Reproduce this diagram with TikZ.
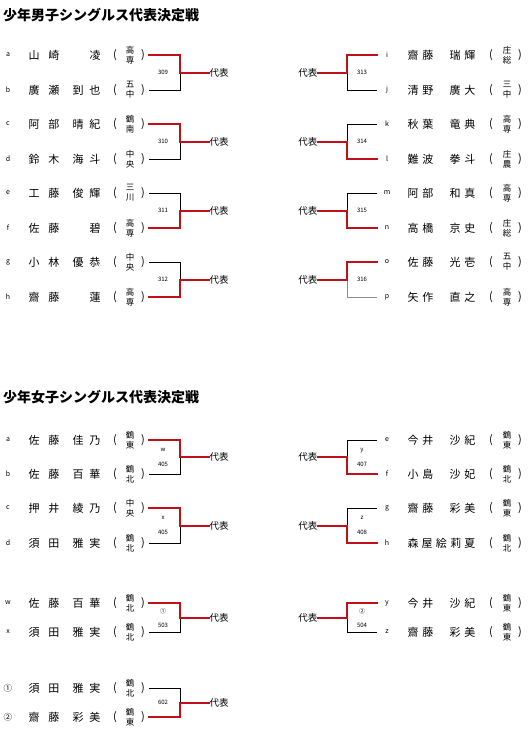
\documentclass[tikz,border=0pt]{standalone}
\usepackage{fontspec}
\setmainfont{Noto Sans CJK JP}
\usetikzlibrary{calc}

\definecolor{winred}{RGB}{192,16,24}

% one player row, left half: id, y, letter, surname, given name, school
\newcommand{\Lrow}[9]{%
  \node[tag] (#1) at (8,#2) {#3};
  \node[nm] (#1sur) at (44,#2) {\makebox[31pt]{#4\hfill#5}};
  \node[nm] (#1giv) at (86.5,#2) {\makebox[28pt]{#6\hfill#7}};
  \node[nm] (#1l) at (115,#2) {(};
  \node[school] (#1k) at (130,#2) {#8\\#9};
  \node[nm] (#1r) at (143,#2) {)};
  \coordinate (#1p) at (149,#2);
}
% one player row, right half
\newcommand{\Rrow}[9]{%
  \coordinate (#1p) at (377,#2);
  \node[tag] (#1) at (387,#2) {#3};
  \node[nm] (#1sur) at (420.5,#2) {\makebox[26pt]{#4\hfill#5}};
  \node[nm] (#1giv) at (462.5,#2) {\makebox[26pt]{#6\hfill#7}};
  \node[nm] (#1l) at (491,#2) {(};
  \node[school] (#1k) at (507,#2) {#8\\#9};
  \node[nm] (#1r) at (520,#2) {)};
}
% bracket: top, bottom, top style, bottom style, id, label
\newcommand{\Lmatch}[6]{%
  \coordinate (#5t) at ($(#1p)+(31,0)$);
  \coordinate (#5b) at ($(#2p)+(31,0)$);
  \coordinate (#5m) at ($(#5t)!0.5!(#5b)$);
  \node[rep, anchor=west] (#5r) at ($(#5m)+(29,0)$) {代表};
  \node[num] (#5n) at ($(#5m)+(-17,0)$) {#6};
  \draw[#4] (#2p) -- (#5b) -- (#5m);
  \draw[#3] (#1p) -- (#5t) -- (#5m);
  \draw[win] (#5m) -- (#5r.west);
}
\newcommand{\Rmatch}[6]{%
  \coordinate (#5t) at ($(#1p)+(-30,0)$);
  \coordinate (#5b) at ($(#2p)+(-30,0)$);
  \coordinate (#5m) at ($(#5t)!0.5!(#5b)$);
  \node[rep, anchor=east] (#5r) at ($(#5m)+(-29,0)$) {代表};
  \node[num] (#5n) at ($(#5m)+(15,0)$) {#6};
  \draw[#4] (#2p) -- (#5b) -- (#5m);
  \draw[#3] (#1p) -- (#5t) -- (#5m);
  \draw[win] (#5m) -- (#5r.east);
}

\begin{document}
\begin{tikzpicture}[
  x=1pt, y=-1pt,
  title/.style={anchor=west, inner sep=0pt, font=\fontsize{14}{15}\selectfont\bfseries},
  tag/.style={inner sep=0pt, font=\fontsize{7}{8}\selectfont},
  nm/.style={inner sep=0pt, font=\fontsize{11}{12}\selectfont},
  school/.style={inner sep=0pt, align=center, font=\fontsize{8.5}{10}\selectfont},
  num/.style={inner sep=0pt, align=center, font=\fontsize{6}{7}\selectfont},
  rep/.style={inner sep=0.5pt, font=\fontsize{9.5}{10}\selectfont},
  win/.style={draw=winred, line width=2pt, line cap=rect},
  lose/.style={draw=black, line width=0.6pt},
  faint/.style={draw=black!45, line width=0.8pt}
]
\useasboundingbox (0,0) rectangle (530,742);

\node[title] (boys) at (3,15) {少年男子シングルス代表決定戦};

\Lrow{ma}{55}{a}{山}{崎}{}{凌}{高}{専}
\Lrow{mb}{90}{b}{廣}{瀬}{到}{也}{五}{中}
\Lrow{mc}{124}{c}{阿}{部}{晴}{紀}{鶴}{南}
\Lrow{md}{159}{d}{鈴}{木}{海}{斗}{中}{央}
\Lrow{me}{193}{e}{工}{藤}{俊}{輝}{三}{川}
\Lrow{mf}{228}{f}{佐}{藤}{}{碧}{高}{専}
\Lrow{mg}{262}{g}{小}{林}{優}{恭}{中}{央}
\Lrow{mh}{297}{h}{齋}{藤}{}{蓮}{高}{専}

\Lmatch{ma}{mb}{win}{lose}{m309}{309}
\Lmatch{mc}{md}{win}{lose}{m310}{310}
\Lmatch{me}{mf}{lose}{win}{m311}{311}
\Lmatch{mg}{mh}{lose}{win}{m312}{312}

\Rrow{mi}{55}{i}{齋}{藤}{瑞}{輝}{庄}{総}
\Rrow{mj}{90}{j}{清}{野}{廣}{大}{三}{中}
\Rrow{mk}{124}{k}{秋}{葉}{竜}{典}{高}{専}
\Rrow{ml}{159}{l}{難}{波}{拳}{斗}{庄}{農}
\Rrow{mm}{193}{m}{阿}{部}{和}{真}{高}{専}
\Rrow{mn}{228}{n}{高}{橋}{京}{史}{庄}{総}
\Rrow{mo}{262}{o}{佐}{藤}{光}{壱}{五}{中}
\Rrow{mp}{297}{p}{矢}{作}{直}{之}{高}{専}

\Rmatch{mi}{mj}{win}{lose}{m313}{313}
\Rmatch{mk}{ml}{lose}{win}{m314}{314}
\Rmatch{mm}{mn}{lose}{win}{m315}{315}
\Rmatch{mo}{mp}{win}{faint}{m316}{316}

\node[title] (girls) at (3,397) {少年女子シングルス代表決定戦};

\Lrow{wa}{440}{a}{佐}{藤}{佳}{乃}{鶴}{東}
\Lrow{wb}{474}{b}{佐}{藤}{百}{華}{鶴}{北}
\Lrow{wc}{508}{c}{押}{井}{綾}{乃}{中}{央}
\Lrow{wd}{543}{d}{須}{田}{雅}{実}{鶴}{北}

\Lmatch{wa}{wb}{win}{lose}{w405}{w\\[8pt]405}
\Lmatch{wc}{wd}{win}{lose}{x405}{x\\[8pt]405}

\Rrow{we}{440}{e}{今}{井}{沙}{紀}{鶴}{東}
\Rrow{wf}{474}{f}{小}{島}{沙}{妃}{鶴}{北}
\Rrow{wg}{508}{g}{齋}{藤}{彩}{美}{鶴}{東}
\Rrow{wh}{543}{h}{}{}{}{}{鶴}{北}
\node[nm] (whname) at (441.5,543) {\makebox[68pt]{森\hfill 屋\hfill 絵\hfill 莉\hfill 夏}};

\Rmatch{we}{wf}{lose}{win}{y407}{y\\[8pt]407}
\Rmatch{wg}{wh}{lose}{win}{z408}{z\\[8pt]408}

\Lrow{ww}{603}{w}{佐}{藤}{百}{華}{鶴}{北}
\Lrow{wx}{632}{x}{須}{田}{雅}{実}{鶴}{北}
\Lmatch{ww}{wx}{win}{lose}{w503}{①\\[7pt]503}

\Rrow{wy}{603}{y}{今}{井}{沙}{紀}{鶴}{東}
\Rrow{wz}{632}{z}{齋}{藤}{彩}{美}{鶴}{東}
\Rmatch{wy}{wz}{win}{lose}{w504}{②\\[7pt]504}

\Lrow{w1}{688}{\fontsize{8.5}{9}\selectfont ①}{須}{田}{雅}{実}{鶴}{北}
\Lrow{w2}{717}{\fontsize{8.5}{9}\selectfont ②}{齋}{藤}{彩}{美}{鶴}{東}
\Lmatch{w1}{w2}{lose}{win}{w602}{602}

\end{tikzpicture}
\end{document}
